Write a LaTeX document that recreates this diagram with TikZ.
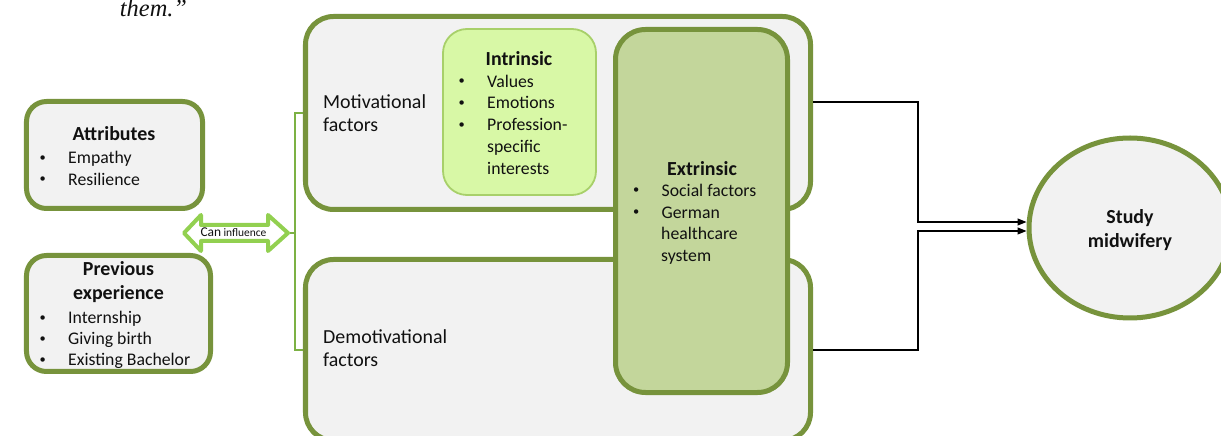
\documentclass[tikz,border=0pt]{standalone}
\usepackage{fontspec}
\setmainfont{Carlito}
\newfontfamily\quotefont{Liberation Serif}
\usetikzlibrary{shapes.geometric,calc,arrows.meta}

\definecolor{olive}{HTML}{77933C}
\definecolor{panel}{HTML}{F2F2F2}
\definecolor{intfill}{HTML}{D8F8A6}
\definecolor{intline}{HTML}{A8D06A}
\definecolor{extfill}{HTML}{C3D69B}
\definecolor{lime}{HTML}{92D050}
\definecolor{ink}{HTML}{111111}

\newcommand\diagbody{\fontsize{20}{24}\selectfont}
\newcommand\diaglist{\fontsize{17.8}{21.5}\selectfont}
\newcommand\itembullet{\makebox[26bp][l]{\hspace{-2.5bp}\raisebox{2.8bp}{\fontsize{12.5}{12.5}\selectfont\textbullet}}}

\tikzset{
  panelbox/.style={draw=olive, line width=5bp, fill=panel, rounded corners=28bp, inner sep=0pt},
  smallbox/.style={panelbox, rounded corners=20bp},
  intbox/.style={draw=intline, line width=1.8bp, fill=intfill, rounded corners=24bp, inner sep=0pt},
  extbox/.style={draw=olive, line width=5bp, fill=extfill, rounded corners=30bp, inner sep=0pt},
  title/.style={anchor=base, inner sep=0pt, text=ink, font=\diagbody\bfseries},
  label/.style={anchor=base west, inner sep=0pt, text=ink, font=\diagbody},
  item/.style={anchor=base west, inner sep=0pt, text=ink, font=\diaglist},
  conn/.style={draw=black, line width=1.1bp, -{Triangle[length=9bp,width=7bp]}},
  connshadow/.style={draw=black!25, line width=2bp, opacity=0.5},
  bracket/.style={draw=lime!85!black, line width=1.4bp},
}

\begin{document}
\begin{tikzpicture}[x=1bp,y=-1bp]
\useasboundingbox (0,0) rectangle (1221,436);

% closing words of a quotation above the figure
\node[anchor=base, inner sep=0pt, text=ink, font=\fontsize{24.5}{26}\selectfont\quotefont\itshape] (quote) at (153.5,17) {them.”};

% personal background boxes
\node[smallbox, minimum width=176bp, minimum height=107bp] (attr) at (114.5,155) {};
\node[title] (attrT) at (114,141) {Attributes};
\node[item] (attr1) at (42,164) {\itembullet Empathy};
\node[item] (attr2) at (42,185.5) {\itembullet Resilience};

\node[smallbox, minimum width=184bp, minimum height=116bp] (prev) at (118.5,313.5) {};
\node[title] (prevT1) at (118.5,276) {Previous};
\node[title] (prevT2) at (118.5,300) {experience};
\node[item] (prev1) at (42,324) {\itembullet Internship};
\node[item] (prev2) at (42,345) {\itembullet Giving birth};
\node[item] (prev3) at (42,366) {\itembullet Existing Bachelor};

% double-headed influence arrow
\draw[draw=lime, line width=4bp, fill=white, line join=round]
  (184,233) -- (201,215) -- (201,225) -- (268,225) -- (268,215) -- (288,233)
  -- (268,251) -- (268,241) -- (201,241) -- (201,251) -- cycle;
\coordinate (arrR) at (290,233);
\node[anchor=base, inner sep=0pt, text=ink] (canlbl) at (233.5,237)
  {{\fontsize{13.5}{14}\selectfont Can} {\fontsize{11.5}{12}\selectfont influence}};

% factor panels
\node[panelbox, minimum width=505bp, minimum height=193bp] (mot) at (558,113) {};
\node[panelbox, minimum width=505bp, minimum height=181bp] (demot) at (558,350) {};

\node[label] (motT1) at (323,108.3) {Motivational};
\node[label] (motT2) at (323,131.5) {factors};
\node[label] (demT1) at (323,344) {Demotivational};
\node[label] (demT2) at (323,367) {factors};

% bracket joining the arrow to both panels
\draw[bracket] (mot.west) -- ++(-8,0) coordinate (bt) |- (demot.west);
\draw[bracket] (arrR) -- (bt |- arrR);

% intrinsic motives
\node[intbox, minimum width=153bp, minimum height=166bp] (intr) at (519.5,112) {};
\node[title] (intrT) at (519,65.7) {Intrinsic};
\node[item] (intr1) at (461,87.3) {\itembullet Values};
\node[item] (intr2) at (461,109) {\itembullet Emotions};
\node[item] (intr3) at (461,131) {\itembullet Profession-};
\node[item] (intr4) at (487,152.7) {specific};
\node[item] (intr5) at (487,174.3) {interests};

% extrinsic motives, spanning both panels
\node[extbox, minimum width=172bp, minimum height=363bp] (extr) at (701.5,211) {};
\node[title] (extrT) at (702,175.7) {Extrinsic};
\node[item] (extr1) at (635.5,196.7) {\itembullet Social factors};
\node[item] (extr2) at (635.5,218.3) {\itembullet German};
\node[item] (extr3) at (661,240) {healthcare};
\node[item] (extr4) at (661,261.7) {system};

% outcome
\node[ellipse, draw=olive, line width=5bp, fill=panel, minimum width=202bp, minimum height=180bp, inner sep=0pt] (study) at (1130,228) {};
\node[title] (studyT1) at (1130,224) {Study};
\node[title] (studyT2) at (1130,247.7) {midwifery};

% connectors to the outcome
\coordinate (motout) at ($(mot.east)+(0,-11)$);
\coordinate (inA) at ($(study.west)+(0,-6)$);
\coordinate (inB) at ($(study.west)+(0,3)$);
\begin{scope}[shift={(1.5,1.5)}]
  \draw[connshadow] (motout) -- ++(105,0) |- ($(inA)+(-8,0)$);
  \draw[connshadow] (demot.east) -- ++(105,0) |- ($(inB)+(-8,0)$);
\end{scope}
\draw[conn] (motout) -- ++(105,0) |- (inA);
\draw[conn] (demot.east) -- ++(105,0) |- (inB);
\end{tikzpicture}
\end{document}
